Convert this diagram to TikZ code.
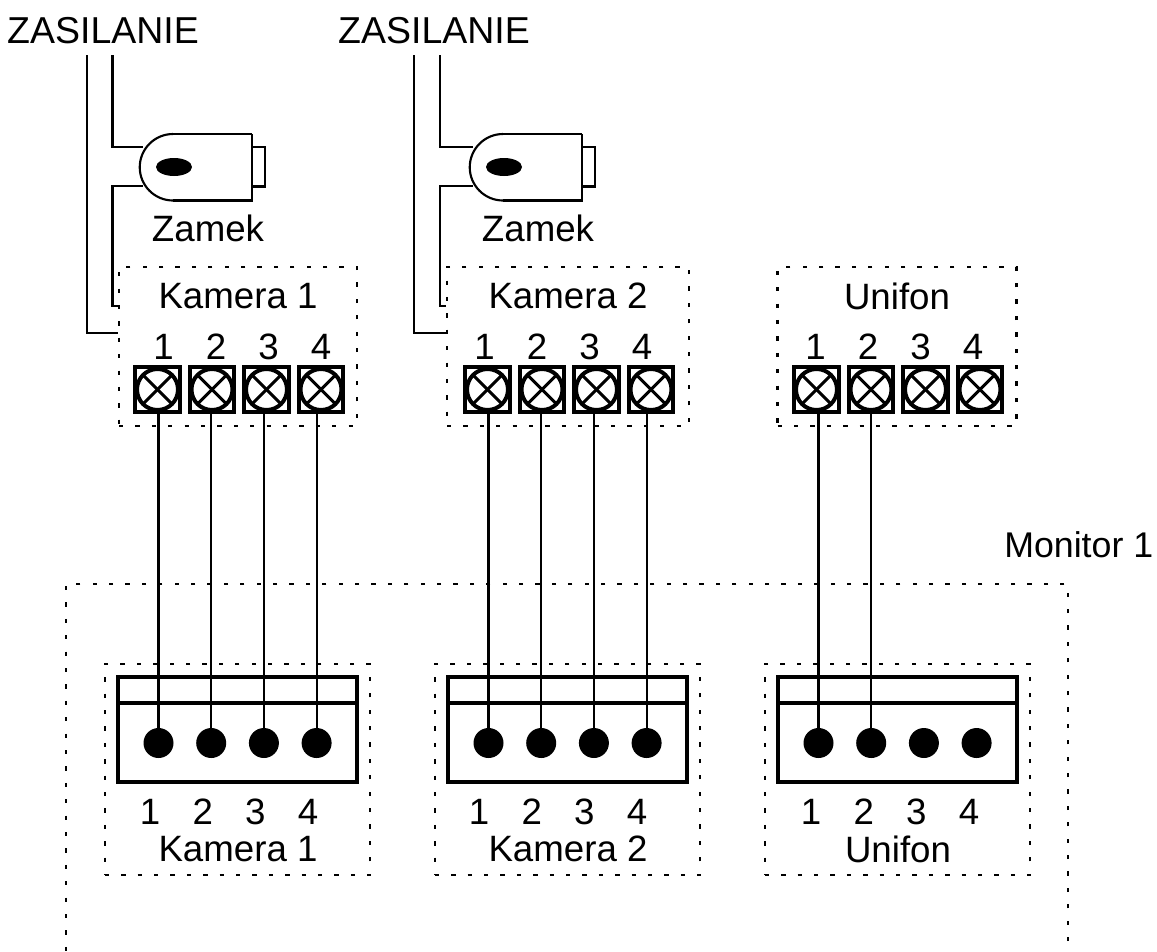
\documentclass[tikz,border=0pt]{standalone}
\usepackage{fontspec}
\setmainfont{Liberation Sans}
\usetikzlibrary{calc,shapes.geometric}
\tikzset{
  label text/.style={inner sep=0pt,font=\fontsize{27.5pt}{27.5pt}\selectfont},
  supply text/.style={inner sep=0pt,font=\fontsize{28.1pt}{28.1pt}\selectfont},
  dotbox/.style={draw,line width=1.9pt,dash pattern=on 3.2pt off 9.1pt,inner sep=0pt},
  wire/.style={line width=1.6pt},
  screwbox/.style={draw,line width=3pt,minimum size=33.7pt,inner sep=0pt},
  pin/.style={circle,fill=black,minimum size=22.5pt,inner sep=0pt},
  plugbox/.style={draw,line width=3pt,inner sep=0pt}
}
\begin{document}
\begin{tikzpicture}[x=0.75pt,y=-0.75pt]
\useasboundingbox (0,0) rectangle (1157,951);
\node[supply text] (supply1) at (103,31) {ZASILANIE};
\node[supply text] (supply2) at (434,31) {ZASILANIE};
\node[anchor=west,inner sep=0pt,font=\fontsize{26.8pt}{26.8pt}\selectfont] (monitor) at (1004,545) {Monitor 1};
\node[dotbox,minimum width=751.5pt,minimum height=279pt] (monitorbox) at (567,770) {};
% upper units
\foreach \u/\name/\dx/\boxw/\nx in {1/Kamera 1/0/178.5pt/6,2/Kamera 2/330/181.5pt/-3,3/Unifon/659/179pt/-1}{
  \node[dotbox,minimum width=\boxw,minimum height=119pt] (box\u) at (238+\dx,346.5) {};
  \node[label text] (name\u) at (238+\dx,296) {\name};
  \foreach \i in {1,2,3,4}{
    \node[screwbox] (screw\u\i) at (157.5+\dx+54.5*\i-54.5,389.5) {};
    \draw[line width=3pt] (screw\u\i.center) circle (20.5);
    \draw[line width=2.3pt] ($(screw\u\i.center)+(-14.5,-14.5)$) -- ($(screw\u\i.center)+(14.5,14.5)$);
    \draw[line width=2.3pt] ($(screw\u\i.center)+(-14.5,14.5)$) -- ($(screw\u\i.center)+(14.5,-14.5)$);
    \node[label text] (num\u\i) at (157.5+\dx+\nx+52.5*\i-52.5,347) {\i};
  }
}
% lower units
\foreach \u/\name/\dx/\nx in {1/Kamera 1/0/0,2/Kamera 2/330/-1,3/Unifon/660/1}{
  \node[dotbox,minimum width=199pt,minimum height=158pt] (conbox\u) at (237.5+\dx,769.5) {};
  \node[plugbox,minimum width=179pt,minimum height=79pt] (plug\u) at (237.5+\dx,729.5) {};
  \draw[line width=3pt] (118+\dx,703) -- (357+\dx,703);
  \node[label text] (conname\u) at (238+\dx,849) {\name};
  \foreach \i in {1,2,3,4}{
    \node[pin] (pin\u\i) at (158.5+\dx+52.7*\i-52.7,743) {};
    \node[label text] (connum\u\i) at (150+\dx+\nx+52.7*\i-52.7,812) {\i};
  }
}
% locks
\foreach \u/\dx in {1/0,2/330}{
  \draw[line width=1.6pt] (252+\dx,134) -- (173+\dx,134);
  \draw[line width=1.6pt] (173+\dx,200.5) arc (90:270:33.25);
  \draw[line width=1.6pt] (173+\dx,200.5) -- (252+\dx,200.5) -- (252+\dx,134);
  \draw[line width=1.6pt] (252+\dx,147) -- (265+\dx,147) -- (265+\dx,186.5) -- (252+\dx,186.5);
  \node[ellipse,fill=black,minimum width=27pt,minimum height=13.5pt,inner sep=0pt] (key\u) at (174+\dx,167) {};
  \node[label text] (lock\u) at (208+\dx,228) {Zamek};
  \coordinate (lockin\u) at (143+\dx,147);
  \coordinate (lockout\u) at (143+\dx,186);
}
\coordinate (feedA1) at (87,55);
\coordinate (feedB1) at (112.5,55);
\coordinate (feedA2) at (414,55);
\coordinate (feedB2) at (440,55);
\foreach \u in {1,2}{
  \draw[wire] (feedB\u) |- (lockin\u);
  \draw[wire] (lockout\u) -- (lockout\u -| feedB\u) |- ([yshift=30.4pt]box\u.west);
  \draw[wire] (feedA\u) |- ([yshift=10pt]box\u.west);
}
% connections
\foreach \u/\i in {1/1,1/2,1/3,1/4,2/1,2/2,2/3,2/4,3/1,3/2}{
  \draw[wire] (pin\u\i) -- (pin\u\i |- screw\u\i.south);
}
\end{tikzpicture}
\end{document}
